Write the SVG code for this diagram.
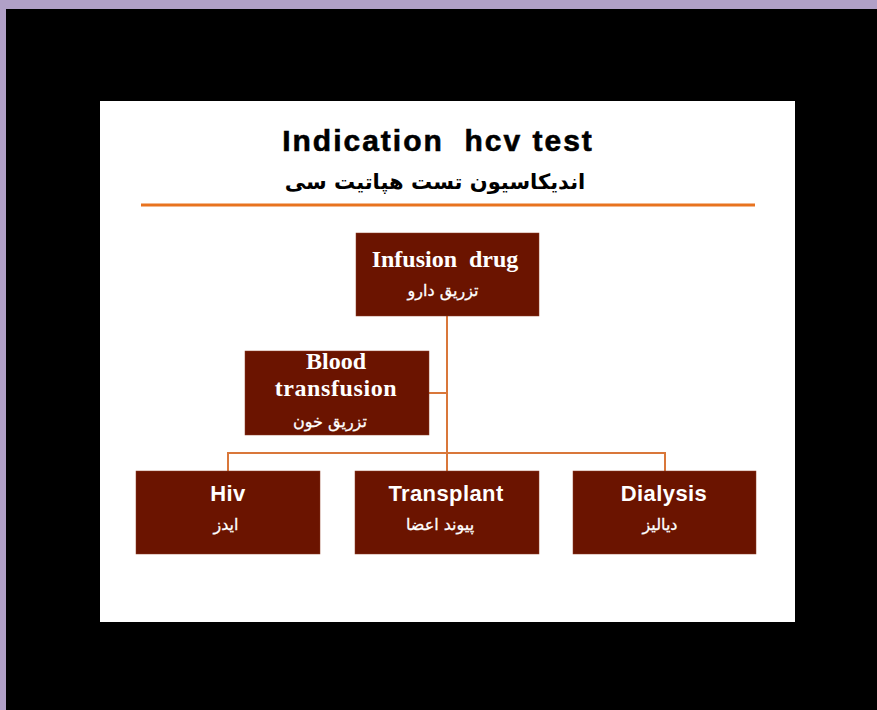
<svg xmlns="http://www.w3.org/2000/svg" width="877" height="710" viewBox="0 0 877 710">
<style>
.box{fill:#6B1400;stroke:#8a3a20;stroke-width:0.5}
.en{font-family:"Liberation Sans",Arial,sans-serif;font-weight:bold;font-size:22px;letter-spacing:0.4px;fill:#fff;text-anchor:middle}
.ens{font-family:"Liberation Serif","Times New Roman",serif;font-weight:bold;font-size:24px;fill:#fff;text-anchor:middle}
.fa{font-family:"DejaVu Sans","Noto Sans",sans-serif;font-size:16px;fill:#fff;text-anchor:middle;stroke:#fff;stroke-width:0.3}
.conn{stroke:#D9773A;stroke-width:2;fill:none}
</style>
<rect x="0" y="0" width="877" height="710" fill="#B1A0C7"/>
<rect x="6" y="9" width="871" height="701" fill="#000"/>
<rect x="100" y="101" width="695" height="521" fill="#fff"/>
<g id="title">
<text x="438" y="151" font-family="Liberation Sans,Arial,sans-serif" font-weight="bold" font-size="30" letter-spacing="2" text-anchor="middle" fill="#000" stroke="#000" stroke-width="0.6">Indication&#160; hcv test</text>
<text x="435" y="189" font-family="DejaVu Sans,Noto Sans,sans-serif" font-weight="bold" font-size="21" text-anchor="middle" fill="#000" direction="rtl">اندیکاسیون تست هپاتیت سی</text>
<line x1="141" y1="205" x2="755" y2="205" stroke="#E8731F" stroke-width="3"/>
</g>
<g id="connectors">
<path class="conn" d="M447 316 V453"/>
<path class="conn" d="M429 393 H447"/>
<path class="conn" d="M228 471 V453 H665 V471"/>
<path class="conn" d="M447 453 V471"/>
</g>
<g id="infusion">
<rect class="box" x="356" y="233" width="183" height="83"/>
<text class="ens" x="445" y="267">Infusion&#160; drug</text>
<text class="fa" x="443" y="296" direction="rtl">تزریق دارو</text>
</g>
<g id="blood">
<rect class="box" x="245" y="351" width="184" height="84"/>
<text class="ens" x="336" y="369" font-size="23">Blood</text>
<text class="ens" x="336" y="396" font-size="23" letter-spacing="0.6">transfusion</text>
<text class="fa" x="330" y="427" direction="rtl">تزریق خون</text>
</g>
<g id="hiv">
<rect class="box" x="136" y="471" width="184" height="83"/>
<text class="en" x="228" y="501">Hiv</text>
<text class="fa" x="226" y="530" direction="rtl">ایدز</text>
</g>
<g id="transplant">
<rect class="box" x="355" y="471" width="184" height="83"/>
<text class="en" x="446" y="501">Transplant</text>
<text class="fa" x="440" y="530" direction="rtl">پیوند اعضا</text>
</g>
<g id="dialysis">
<rect class="box" x="573" y="471" width="183" height="83"/>
<text class="en" x="664" y="501">Dialysis</text>
<text class="fa" x="660" y="530" direction="rtl">دیالیز</text>
</g>
</svg>
